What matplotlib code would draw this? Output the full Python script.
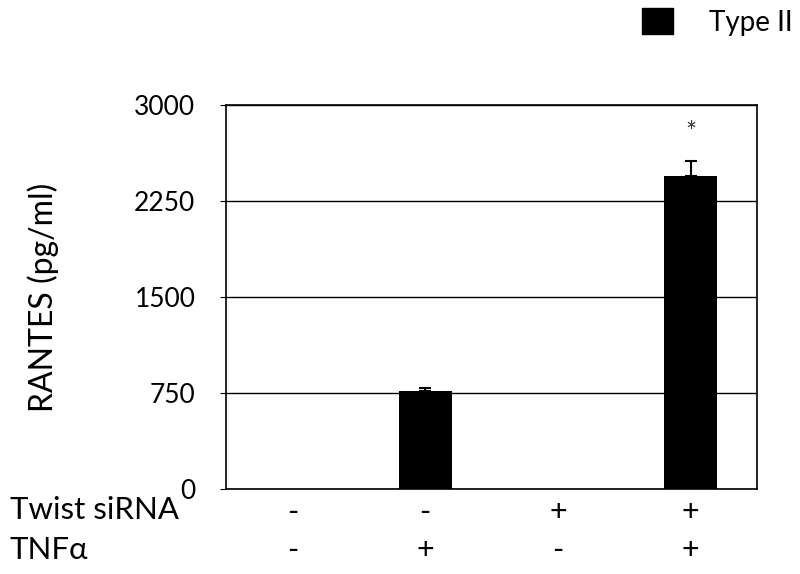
import matplotlib.pyplot as plt
from matplotlib.patches import Patch

plt.rcParams['font.family'] = ['Lato', 'DejaVu Sans']

groups = [0, 1, 2, 3]
rantes = [0, 766, 0, 2448]
errors = [0, 25, 0, 112]
twist_sirna = ['-', '-', '+', '+']
tnf = ['-', '+', '-', '+']
yticks = [0, 750, 1500, 2250, 3000]

fig = plt.figure(figsize=(8, 5.74), dpi=100)
ax = fig.add_axes([0.2825, 0.148, 0.664, 0.669])

ax.bar(groups, rantes, width=0.4, color='black')
eg = [g for g, e in zip(groups, errors) if e > 0]
ev = [rantes[g] for g in eg]
ee = [errors[g] for g in eg]
ax.errorbar(eg, ev, yerr=[[0] * len(ee), ee], fmt='none', ecolor='black',
            elinewidth=1.5, capsize=4, capthick=1.5)
ax.text(3, 2680, '*', ha='center', va='bottom', fontsize=19, color='#333333')

ax.set_xlim(-0.5, 3.5)
ax.set_ylim(0, 3000)
ax.set_yticks(yticks)
ax.set_yticklabels([str(v) for v in yticks], fontsize=19)
ax.tick_params(axis='y', direction='out', length=4, pad=18)
ax.set_xticks([])
ax.yaxis.grid(True, color='black', linewidth=1)
ax.set_axisbelow(True)
for s in ax.spines.values():
    s.set_color('black')
    s.set_linewidth(1.2)
ax.set_ylabel('RANTES (pg/ml)', fontsize=23)
ax.yaxis.set_label_coords(-0.315, 0.5)

for i in groups:
    ax.text(i, -0.06, twist_sirna[i], transform=ax.get_xaxis_transform(),
            ha='center', va='center', fontsize=22)
    ax.text(i, -0.16, tnf[i], transform=ax.get_xaxis_transform(),
            ha='center', va='center', fontsize=22)
fig.text(0.012, 0.112, 'Twist siRNA', ha='left', va='center', fontsize=22.5)
fig.text(0.012, 0.042, 'TNFα', ha='left', va='center', fontsize=22.5)

fig.legend(handles=[Patch(color='black', label='Type II')], loc='upper right',
           bbox_to_anchor=(1.022, 1.03), frameon=False, fontsize=20,
           handlelength=1.1, handleheight=1.1, handletextpad=1.3)

fig.savefig('out.png', dpi=100)
